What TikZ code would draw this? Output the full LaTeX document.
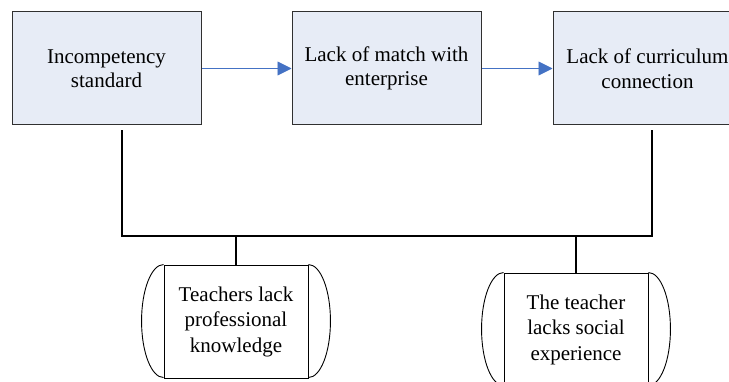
\documentclass[tikz,border=0pt]{standalone}
\usepackage{fontspec}
\newfontfamily\timesfont{Liberation Serif}
\usetikzlibrary{arrows.meta,calc}
\definecolor{boxfill}{HTML}{E7ECF6}
\definecolor{boxline}{HTML}{303030}
\definecolor{arrowblue}{HTML}{4472C4}
\tikzset{
  topbox/.style={draw=boxline, line width=1pt, fill=boxfill, minimum width=189pt, minimum height=113pt, inner sep=0pt, align=center, font=\timesfont\fontsize{21}{24.5}\selectfont},
  lowbox/.style={draw=black, line width=0.9pt, minimum width=144pt, minimum height=113pt, inner sep=0pt, align=center, font=\timesfont\fontsize{21}{25.5}\selectfont},
  flowarrow/.style={draw=arrowblue, line width=0.9pt, -{Triangle[length=14pt, width=14pt]}},
  joinline/.style={draw=black, line width=1.6pt},
  bulge/.style={draw=black, line width=0.9pt}
}
\begin{document}
\begin{tikzpicture}[x=1pt, y=-1pt]
\useasboundingbox (0,0) rectangle (729,382);
\begin{scope}
\clip (0,0) rectangle (729,382);
\node[topbox] (b1) at (106.5,68.5) {Incompetency\\standard};
\node[topbox] (b2) at (386.5,68.5) {Lack of match with\\enterprise};
\node[topbox] (b3) at (647.5,68.5) {Lack of curriculum\\connection};
\draw[flowarrow] (b1.east) -- (b2.west);
\draw[flowarrow] (b2.east) -- (b3.west);

\node[lowbox] (t1) at (236,321.5) {Teachers lack\\professional\\knowledge};
\node[lowbox] (t2) at (576,329.5) {The teacher\\lacks social\\experience};
\foreach \n in {t1,t2}{
  \draw[bulge] (\n.north west) arc[start angle=90, end angle=270, x radius=22pt, y radius=56.5pt];
  \draw[bulge] (\n.north east) arc[start angle=90, end angle=-90, x radius=22pt, y radius=56.5pt];
}

\coordinate (s1) at ($(b1.south)+(15.5,5)$);
\coordinate (s3) at ($(b3.south)+(4.5,5)$);
\coordinate (j1) at (s1 |- 0,236);
\coordinate (j3) at (s3 |- 0,236);
\coordinate (d1) at (t1.north |- 0,236);
\coordinate (d2) at (t2.north |- 0,236);
\draw[joinline] (s1) -- (j1) -- (j3) -- (s3);
\draw[joinline] (d1) -- (t1.north);
\draw[joinline] (d2) -- (t2.north);
\end{scope}
\end{tikzpicture}
\end{document}
